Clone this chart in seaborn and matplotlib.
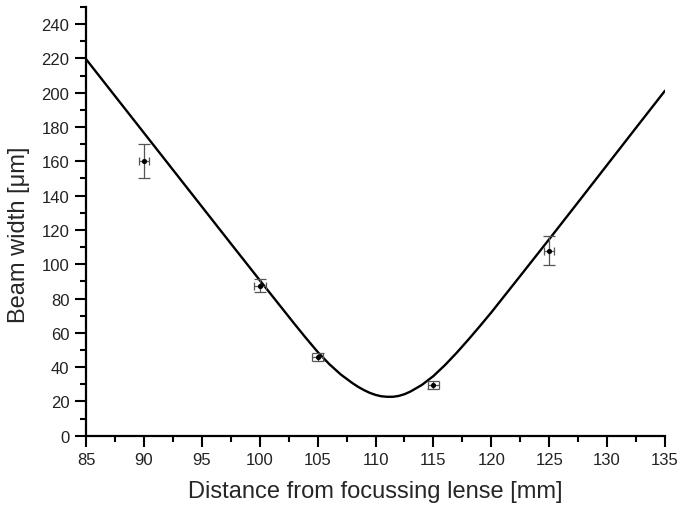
import numpy as np
import pandas as pd
import matplotlib
matplotlib.use("Agg")
import matplotlib.pyplot as plt
from matplotlib.ticker import MultipleLocator
import seaborn as sns

# measured beam widths
dist_mm = [90, 100, 105, 115, 125]
width_um = [160, 87.5, 46, 29.7, 108]
width_err = [10, 3.9, 2.5, 2.4, 8.3]
dist_err = [0.4, 0.5, 0.5, 0.5, 0.45]

# fitted curve
fit_x = [85, 87.5, 90, 92.5, 95, 97.5, 100, 101, 102, 103, 104, 105, 106,
         107, 108, 108.5, 109, 109.5, 110, 110.5, 111, 111.5, 112, 112.5,
         113, 114, 115, 116, 117, 118, 119, 120, 122.5, 125, 127.5, 130,
         132.5, 135]
fit_y = [219.6, 198.1, 176.6, 155.1, 133.6, 112.1, 90.7, 82.2, 73.7, 65.2,
         56.9, 48.9, 41.8, 35.7, 30.7, 28.5, 26.6, 25.0, 23.8, 23.0, 22.7,
         22.7, 23.2, 24.2, 25.7, 29.6, 34.8, 41.2, 48.3, 55.9, 63.8, 71.9,
         93.2, 114.6, 136.2, 157.9, 179.6, 201.2]

sns.set_style("ticks")
plt.rcParams["font.family"] = ["Liberation Sans", "DejaVu Sans"]

fig = plt.figure(figsize=(6.79, 5.10), dpi=100)
ax = fig.add_axes([0.1267, 0.1437, 0.8527, 0.8406])

fit_df = pd.DataFrame({"x": fit_x, "y": fit_y})
sns.lineplot(data=fit_df, x="x", y="y", ax=ax, color="black", linewidth=1.7,
             estimator=None, sort=True)

# vertical and horizontal error bars have slightly different cap sizes
ax.errorbar(dist_mm, width_um, yerr=width_err, fmt="none", ecolor="#555555",
            elinewidth=0.9, capsize=4, capthick=0.9, zorder=3)
ax.errorbar(dist_mm, width_um, xerr=dist_err, fmt="none", ecolor="#555555",
            elinewidth=0.9, capsize=3, capthick=0.9, zorder=3)
pts = pd.DataFrame({"x": dist_mm, "y": width_um})
sns.scatterplot(data=pts, x="x", y="y", ax=ax, color="black", s=14,
                edgecolor="black", linewidth=0, zorder=4)

ax.set_xlim(85, 135)
ax.set_ylim(0, 250)
ax.xaxis.set_major_locator(MultipleLocator(5))
ax.xaxis.set_minor_locator(MultipleLocator(2.5))
ax.yaxis.set_major_locator(MultipleLocator(20))
ax.yaxis.set_minor_locator(MultipleLocator(10))
ax.tick_params(which="major", direction="out", length=8, width=1.5,
               labelsize=12, labelcolor="#222222", color="black", pad=4)
ax.tick_params(which="minor", direction="out", length=4.5, width=1.5, color="black")
for s in ["left", "bottom"]:
    ax.spines[s].set_linewidth(1.6)
    ax.spines[s].set_color("black")
sns.despine(ax=ax)

ax.set_xlabel("Distance from focussing lense [mm]", fontsize=17, labelpad=9)
ax.set_ylabel("Beam width [μm]", fontsize=17)
ax.yaxis.set_label_coords(-0.097, 0.47)

fig.savefig("out.png", dpi=100)
